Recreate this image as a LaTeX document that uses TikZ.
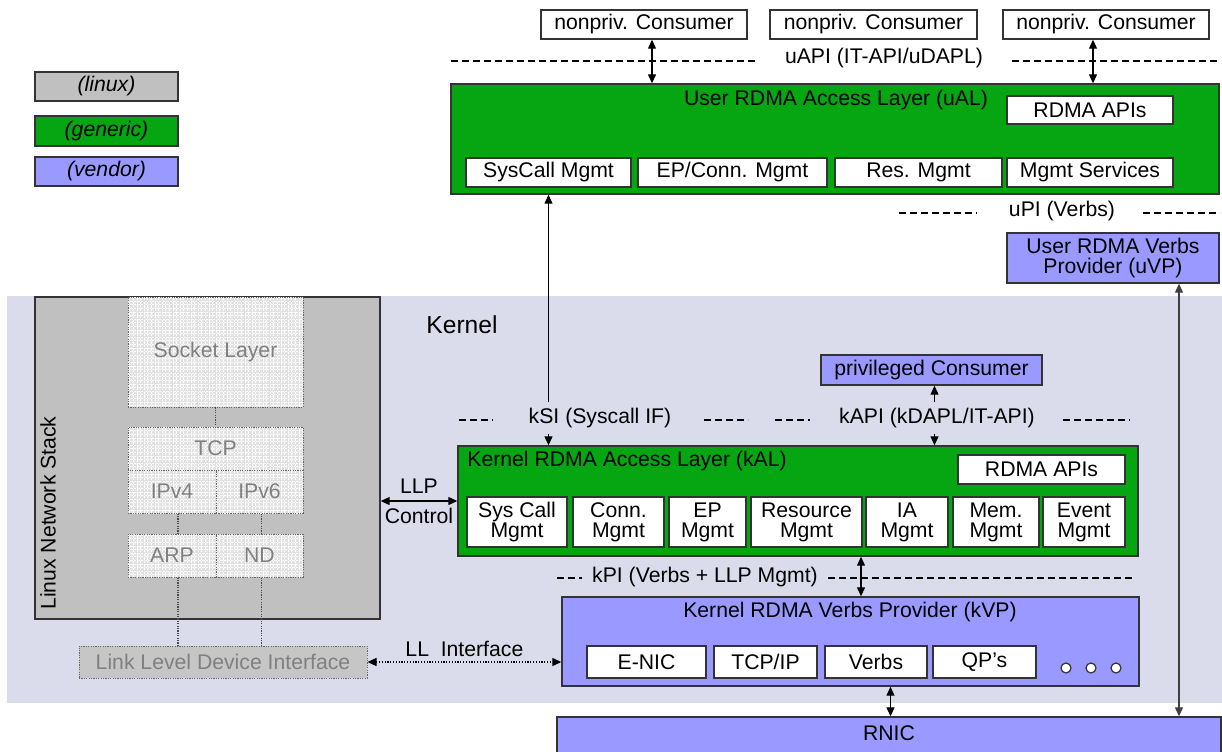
\documentclass[tikz,border=0pt]{standalone}
\usepackage{fontspec}
\setmainfont{Liberation Sans}
\usetikzlibrary{arrows.meta,fit,patterns.meta,positioning}
\definecolor{kernelbg}{RGB}{219,220,235}
\definecolor{genericgreen}{RGB}{5,166,18}
\definecolor{vendorblue}{RGB}{153,153,255}
\definecolor{linuxgrey}{RGB}{192,192,192}
\definecolor{stackgrey}{RGB}{226,226,226}
\definecolor{fadedtext}{RGB}{128,128,128}
\newcommand{\rdmafont}{\fontsize{10.6}{10}\selectfont}
\tikzset{%
    every label/.style={%
        align=center
    },
    layer/.style={%
        draw=black!80, line width=0.7pt, inner sep=0pt
    },
    part/.style 2 args={%
        layer, fill=white, fit={#1}, label={center:#2}
    },
    generic/.style 2 args={%
        layer, fill=genericgreen, fit={#1}, label={center:#2}
    },
    vendor/.style 2 args={%
        layer, fill=vendorblue, fit={#1}, label={center:#2}
    },
    linux/.style 2 args={%
        layer, fill=linuxgrey, fit={#1}, label={center:#2}
    },
    stackpart/.style 2 args={%
        draw=black!60, line width=0.5pt, dash pattern=on 0.6pt off 0.6pt,
        inner sep=0pt, fit={#1}, label={[text=fadedtext]center:#2},
        preaction={fill=stackgrey},
        pattern={Hatch[angle=0,distance=1.8pt,line width=0.3pt]}, pattern color=white
    },
    lldev/.style 2 args={%
        draw=black!60, line width=0.5pt, dash pattern=on 0.6pt off 0.6pt,
        inner sep=0pt, fill=linuxgrey!90!white, fit={#1}, label={[text=fadedtext]center:#2}
    },
    stacklink/.style={%
        draw=black!70, line width=0.6pt, dash pattern=on 0.6pt off 0.6pt
    },
    iface/.style={%
        line width=0.6pt, dash pattern=on 3.3pt off 2.2pt
    },
    link/.style={%
        <->, line width=0.6pt
    },
    txt/.style={%
        inner sep=1pt
    },
    cover/.style={%
        fill=kernelbg, inner xsep=1pt, inner ysep=3pt
    },
    dot/.style={%
        circle, draw=black!80, line width=0.6pt, fill=white, minimum size=5pt, inner sep=0pt
    },
}

\begin{document}
\begin{tikzpicture}[x=0.5pt, y=-0.5pt, font=\rdmafont, >={Triangle[length=4.5pt,width=4pt]}]
    \clip (0,0) rectangle (1222,751);
    \fill[white] (0,0) rectangle (1222,751);
    \fill[kernelbg] (7,296) rectangle (1222,703);

    % legend
    \node[linux={(35,72) (178,101)}{\textit{(linux)}}] (lglinux) {};
    \node[generic={(35,116) (178,146)}{\textit{(generic)}}] (lggeneric) {};
    \node[vendor={(35,157) (178,186)}{\textit{(vendor)}}] (lgvendor) {};

    % user space
    \node[part={(541,10) (747,39)}{nonpriv. Consumer}] (cons1) {};
    \node[part={(770,10) (977,39)}{nonpriv. Consumer}] (cons2) {};
    \node[part={(1003,10) (1209,39)}{nonpriv. Consumer}] (cons3) {};

    \draw[iface] (451,61) -- (755,61);
    \node[txt] (uapi) at (884,58) {uAPI (IT-API/uDAPL)};
    \draw[iface] (1012,61) -- (1218,61);

    \node[generic={(451,84) (1219,194)}{}] (ual) {};
    \node[txt] (ualtitle) at (836,100) {User RDMA Access Layer (uAL)};
    \node[part={(1007,96) (1173,124)}{RDMA APIs}] (uapis) {};
    \node[part={(466,158) (631,187)}{SysCall Mgmt}] (usys) {};
    \node[part={(638,158) (827,187)}{EP/Conn. Mgmt}] (uep) {};
    \node[part={(835,158) (1002,187)}{Res. Mgmt}] (ures) {};
    \node[part={(1007,158) (1173,187)}{Mgmt Services}] (umgmt) {};

    \draw[link] ([xshift=4pt]cons1.south) -- ([xshift=4pt]cons1.south |- ual.north);
    \draw[link] ([xshift=-6.5pt]cons3.south) -- ([xshift=-6.5pt]cons3.south |- ual.north);

    \draw[iface] (899,213) -- (977,213);
    \node[txt] (upi) at (1062,211) {uPI (Verbs)};
    \draw[iface] (1143,213) -- (1220,213);
    \node[vendor={(1007,233) (1219,283)}{User RDMA Verbs\\Provider (uVP)}] (uvp) {};

    % kernel
    \node[font=\fontsize{12.3}{14}\selectfont] (kernel) at (462,325) {Kernel};

    \node[linux={(35,297) (380,619)}{}] (stack) {};
    \node[txt, rotate=90] (stacklabel) at (48,513) {Linux Network Stack};
    \node[stackpart={(128,297) (303,407)}{Socket Layer}] (socket) {};
    \node[stackpart={(128,427) (303,470)}{TCP}] (tcp) {};
    \node[stackpart={(128,470) (216,513)}{IPv4}] (ipv4) {};
    \node[stackpart={(216,470) (303,513)}{IPv6}] (ipv6) {};
    \node[stackpart={(128,534) (216,577)}{ARP}] (arp) {};
    \node[stackpart={(216,534) (303,577)}{ND}] (nd) {};
    \node[lldev={(79,646) (367,678)}{Link Level Device Interface}] (lldi) {};
    \draw[stacklink] (socket) -- (tcp);
    \draw[stacklink] ([xshift=3pt]ipv4.south) -- ([xshift=3pt]arp.north);
    \draw[stacklink] ([xshift=1pt]ipv6.south) -- ([xshift=1pt]nd.north);
    \draw[stacklink] ([xshift=3pt]arp.south) -- ([xshift=3pt]arp.south |- lldi.north);
    \draw[stacklink] ([xshift=1pt]nd.south) -- ([xshift=1pt]nd.south |- lldi.north);

    \node[vendor={(821,355) (1042,385)}{privileged Consumer}] (priv) {};

    \node[generic={(458,446) (1138,556)}{}] (kal) {};
    \node[txt, anchor=west] (kaltitle) at (465,461) {Kernel RDMA Access Layer (kAL)};
    \node[part={(958,455) (1125,484)}{RDMA APIs}] (kapis) {};
    \node[part={(467,497) (567,547)}{Sys Call\\Mgmt}] (ksys) {};
    \node[part={(573,497) (664,547)}{Conn.\\Mgmt}] (kconn) {};
    \node[part={(669,497) (746,547)}{EP\\Mgmt}] (kep) {};
    \node[part={(751,497) (862,547)}{Resource\\Mgmt}] (kres) {};
    \node[part={(866,497) (948,547)}{IA\\Mgmt}] (kia) {};
    \node[part={(953,497) (1039,547)}{Mem.\\Mgmt}] (kmem) {};
    \node[part={(1043,497) (1125,547)}{Event\\Mgmt}] (kevent) {};

    \draw[link] (stack.east |- kal) -- (kal.west) node[midway, above]{LLP} node[midway, below]{Control};

    % syscall and kernel API boundary
    \draw[iface] (459,420) -- (493,420);
    \draw[iface] (704,420) -- (748,420);
    \draw[iface] (775,420) -- (810,420);
    \draw[iface] (1063,420) -- (1130,420);
    \draw[link] (usys.south |- ual.south) -- (usys.south |- kal.north);
    \node[txt, cover] (ksi) at (600,418) {kSI (Syscall IF)};
    \draw[link] ([xshift=1.5pt]priv.south) -- ([xshift=1.5pt]priv.south |- kal.north);
    \node[txt, cover] (kapi) at (937,418) {kAPI (kDAPL/IT-API)};

    \node[vendor={(562,597) (1139,686)}{}] (kvp) {};
    \node[txt] (kvptitle) at (850,612) {Kernel RDMA Verbs Provider (kVP)};
    \node[part={(587,646) (706,678)}{E-NIC}] (enic) {};
    \node[part={(714,646) (817,678)}{TCP/IP}] (tcpip) {};
    \node[part={(825,646) (927,678)}{Verbs}] (verbs) {};
    \node[part={(933,646) (1036,678)}{QP’s}] (qps) {};
    \foreach \x in {1066,1091,1116}
        \node[dot] (more\x) at (\x,668) {};

    \draw[iface] (557,578) -- (582,578);
    \node[txt] (kpi) at (705,577) {kPI (Verbs + LLP Mgmt)};
    \draw[iface] (828,578) -- (1132,578);
    \draw[link] ([xshift=5.25pt]kvp.north) -- ([xshift=5.25pt]kvp.north |- kal.south);

    \draw[link, dash pattern=on 0.6pt off 0.8pt] (lldi.east) -- (lldi.east -| kvp.west) node[midway, above=-1pt]{LL~~Interface};

    % hardware
    \node[vendor={(557,717) (1221,790)}{}] (rnic) {};
    \node[txt] (rniclabel) at (889,733) {RNIC};
    \draw[link] ([xshift=20pt]kvp.south) -- ([xshift=20pt]kvp.south |- rnic.north);
    \draw[link, draw=black!75] ([xshift=33pt]uvp.south) -- ([xshift=33pt]uvp.south |- rnic.north);
\end{tikzpicture}
\end{document}
